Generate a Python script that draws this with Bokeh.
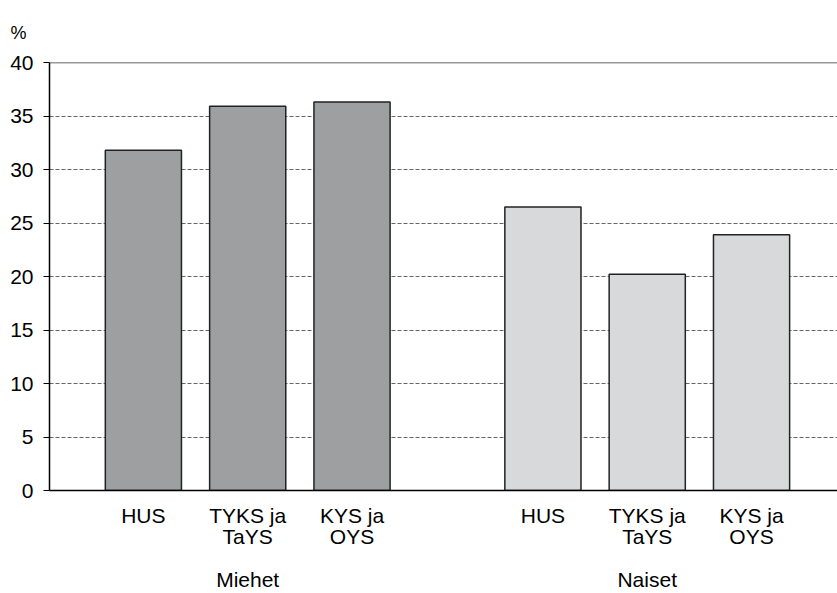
from bokeh.plotting import figure
from bokeh.models import (ColumnDataSource, Range1d, FixedTicker, LinearAxis,
                          CustomJSTickFormatter, Span)
from bokeh.embed import file_html
from bokeh.resources import INLINE

# ---- data ----
groups = ["Miehet", "Naiset"]
categories = ["HUS", "TYKS ja\nTaYS", "KYS ja\nOYS"]
miehet = [31.8, 35.9, 36.3]
naiset = [26.5, 20.2, 23.9]
y_ticks = [0, 5, 10, 15, 20, 25, 30, 35, 40]

FONT = "Liberation Sans"
FS = "21px"
group_gap = 3.83
bar_w = 0.73

xs, tops, colors, labels = [], [], [], []
for gi, (vals, col) in enumerate([(miehet, "#9e9fa1"), (naiset, "#d8d9db")]):
    for ci, v in enumerate(vals):
        xs.append(gi * group_gap + ci)
        tops.append(v)
        colors.append(col)
        labels.append(categories[ci])

src = ColumnDataSource(dict(x=xs, top=tops, color=colors))

p = figure(width=837, height=593, output_backend="svg", toolbar_location=None,
           x_range=Range1d(-0.9, 6.654), y_range=Range1d(0, 40),
           min_border_left=49, min_border_top=62, min_border_right=0,
           min_border_bottom=60, x_axis_location=None, title="%")
p.outline_line_color = None
p.background_fill_color = "white"
p.border_fill_color = "white"

p.title.align = "left"
p.title.offset = -39
p.title.standoff = 40
p.title.text_font = FONT
p.title.text_font_size = "18px"
p.title.text_font_style = "normal"
p.title.text_color = "black"

p.vbar(x="x", top="top", width=bar_w, bottom=0, fill_color="color",
       line_color="#222222", line_width=1.5, source=src)

# grid
p.xgrid.visible = False
p.ygrid.ticker = FixedTicker(ticks=y_ticks[1:-1])
p.ygrid.grid_line_color = "#666666"
p.ygrid.grid_line_dash = "4 2"
p.ygrid.grid_line_width = 1
p.add_layout(Span(location=40, dimension="width", line_color="#333333", line_width=1.5))

# y axis
ya = p.yaxis[0]
ya.ticker = FixedTicker(ticks=y_ticks)
ya.axis_line_color = "black"
ya.axis_line_width = 1.5
ya.major_tick_in = 0
ya.major_tick_out = 6
ya.major_tick_line_color = "black"
ya.minor_tick_line_color = None
ya.major_label_standoff = 10
ya.major_label_text_font = FONT
ya.major_label_text_font_size = FS
ya.major_label_text_color = "black"

JS = """
    let best = 0, d = 1e9;
    for (let i = 0; i < pos.length; i++) {
        const dd = Math.abs(pos[i] - tick);
        if (dd < d) { d = dd; best = i; }
    }
    return labs[best];
"""

# category axis
xa = LinearAxis(ticker=FixedTicker(ticks=xs),
                formatter=CustomJSTickFormatter(args=dict(pos=xs, labs=labels), code=JS))
xa.axis_line_color = "black"
xa.axis_line_width = 1.5
xa.major_tick_line_color = None
xa.minor_tick_line_color = None
xa.major_tick_out = 0
xa.major_tick_in = 0
xa.major_label_standoff = 13
xa.major_label_text_font = FONT
xa.major_label_text_font_size = FS
xa.major_label_text_color = "black"
xa.major_label_text_line_height = 0.95
p.add_layout(xa, "below")

# group axis
gpos = [gi * group_gap + 1 for gi in range(len(groups))]
ga = LinearAxis(ticker=FixedTicker(ticks=gpos),
                formatter=CustomJSTickFormatter(args=dict(pos=gpos, labs=groups), code=JS))
ga.axis_line_color = None
ga.major_tick_line_color = None
ga.minor_tick_line_color = None
ga.major_tick_out = 0
ga.major_tick_in = 0
ga.major_label_standoff = 16
ga.major_label_text_font = FONT
ga.major_label_text_font_size = FS
ga.major_label_text_color = "black"
p.add_layout(ga, "below")

open("out.html", "w").write(file_html(p, INLINE))
